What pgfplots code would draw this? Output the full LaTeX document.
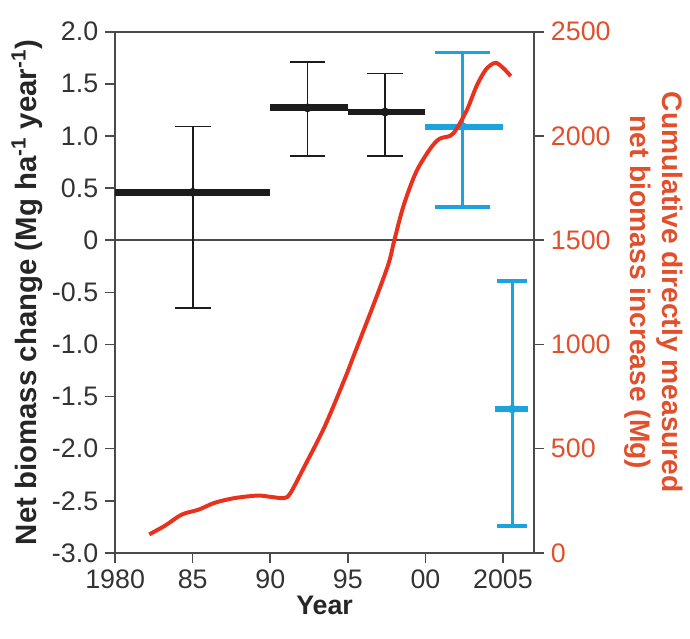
\documentclass[border=0pt]{standalone}
\usepackage{fontspec}
\setmainfont{Liberation Sans}
\usepackage{pgfplots}
\pgfplotsset{compat=1.18}
\definecolor{curvered}{HTML}{E8321E}
\definecolor{axred}{HTML}{E0502C}
\definecolor{errblue}{HTML}{1AA3DC}
\definecolor{spine}{HTML}{4A4A4A}
\definecolor{barblack}{HTML}{1C1C1C}

\begin{document}
\begin{tikzpicture}[font=\fontsize{13.5}{16}\selectfont]
\pgfplotsset{
  base/.style={
    scale only axis, width=211pt, height=262.5pt,
    xmin=1980, xmax=2007,
    tick align=outside, major tick length=5pt,
    axis line style={spine, line width=0.8pt},
    tick style={spine, line width=0.8pt},
    /pgf/number format/assume math mode=true,
  }
}
\begin{axis}[
  base,
  ymin=-3, ymax=2,
  xtick pos=bottom, ytick pos=left,
  xtick={1980,1985,1990,1995,2000,2005},
  xticklabels={1980,85,90,95,00,2005},
  ytick={-3,-2.5,-2,-1.5,-1,-0.5,0,0.5,1,1.5,2},
  yticklabels={-3.0,-2.5,-2.0,-1.5,-1.0,-0.5,0,0.5,1.0,1.5,2.0},
  ticklabel style={text=black!80},
  xlabel={\textbf{Year}},
  ylabel={\textbf{Net biomass change (Mg ha\textsuperscript{-1} year\textsuperscript{-1})}},
  xlabel style={yshift=3pt},
  ylabel style={font=\fontsize{14.8}{17}\selectfont, yshift=-2pt},
  label style={text=black!85},
]
% zero line
\addplot[spine, line width=0.8pt] coordinates {(1980,0) (2007,0)};
% black period means
\addplot[barblack, line width=3.5pt] coordinates {(1980,0.46) (1990,0.46)};
\addplot[barblack, line width=3.5pt] coordinates {(1990,1.27) (1995,1.27)};
\addplot[barblack, line width=3.5pt] coordinates {(1995,1.23) (2000,1.23)};
% black error bars
\addplot[barblack, only marks, mark=none,
  error bars/.cd, y dir=both, y explicit,
  error bar style={barblack, line width=0.9pt},
  error mark options={rotate=90, barblack, line width=0.9pt, mark size=9pt}]
  coordinates {
    (1985,0.46) += (0,0.63) -= (0,1.11)
    (1992.4,1.27) += (0,0.44) -= (0,0.46)
    (1997.4,1.23) += (0,0.37) -= (0,0.42)
  };
% blue estimates
\addplot[errblue, line width=3pt] coordinates {(2000,1.09) (2005,1.09)};
\addplot[errblue, line width=3pt] coordinates {(2004.5,-1.62) (2006.6,-1.62)};
\addplot[errblue, only marks, mark=none,
  error bars/.cd, y dir=both, y explicit,
  error bar style={errblue, line width=1.6pt},
  error mark options={rotate=90, errblue, line width=1.8pt, mark size=13.75pt}]
  coordinates {(2002.4,1.09) += (0,0.71) -= (0,0.77)};
\addplot[errblue, only marks, mark=none,
  error bars/.cd, y dir=both, y explicit,
  error bar style={errblue, line width=1.6pt},
  error mark options={rotate=90, errblue, line width=1.8pt, mark size=7.5pt}]
  coordinates {(2005.6,-1.62) += (0,1.23) -= (0,1.12)};
\end{axis}

\begin{axis}[
  base,
  ymin=0, ymax=2500,
  axis x line=none, axis y line*=right,
  ytick={0,500,1000,1500,2000,2500},
  yticklabels={0,500,1000,1500,2000,2500},
  yticklabel style={text=axred},
  ylabel={\textbf{Cumulative directly measured}\\\textbf{net biomass increase (Mg)}},
  ylabel style={rotate=180, align=center, text=axred, font=\fontsize{14.2}{16.5}\selectfont},
]
\addplot[curvered, line width=2pt, smooth] coordinates {
  (1982.2,89) (1983.2,130) (1984.3,184) (1985.4,208) (1986.4,240)
  (1987.7,263) (1989.2,275) (1990.1,268) (1990.9,263) (1991.3,287)
  (1992.2,414) (1993.5,605) (1994.8,835) (1995.4,950) (1996.6,1180)
  (1997.6,1382) (1998.0,1501) (1998.6,1668) (1999.4,1827) (2000.3,1938)
  (2000.9,1986) (2001.6,2001) (2002.0,2033) (2002.7,2129) (2003.3,2240)
  (2003.9,2319) (2004.5,2351) (2005.0,2327) (2005.5,2287)
};
\coordinate (tl) at (axis cs:1972.58,2652.4);
\coordinate (br) at (axis cs:2016.72,-409.5);
\end{axis}
\path (tl) rectangle (br);
\end{tikzpicture}
\end{document}
